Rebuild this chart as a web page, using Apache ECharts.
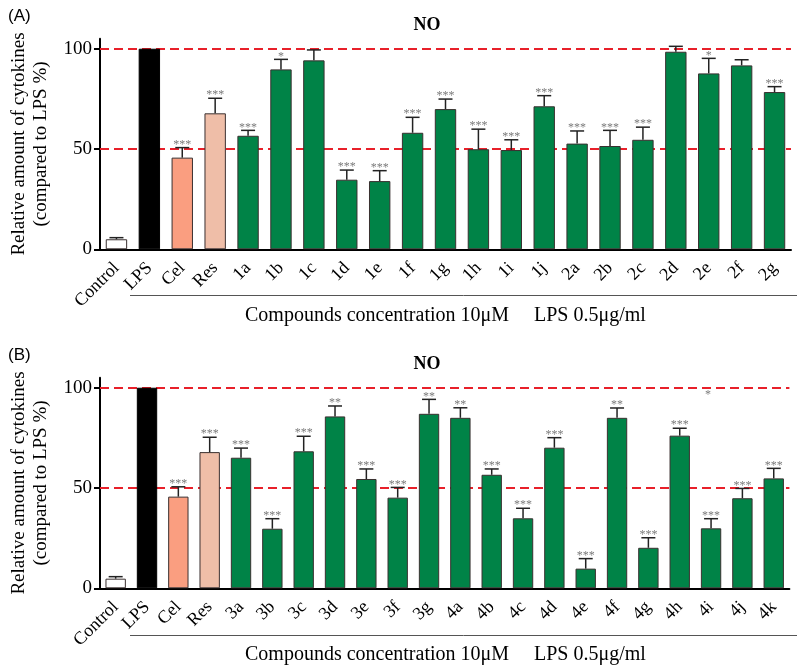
<!DOCTYPE html>
<html><head><meta charset="utf-8">
<script src="https://cdn.jsdelivr.net/npm/echarts@6/dist/echarts.min.js"></script>
<style>html,body{margin:0;padding:0;background:#fff}#c{width:800px;height:669px}</style>
</head><body><div id="c"></div>
<script>
// ---- Panel A data ----
const catsA = ['Control','LPS','Cel','Res','1a','1b','1c','1d','1e','1f','1g','1h','1i','1j','2a','2b','2c','2d','2e','2f','2g'];
const valsA = [5.0,100,45.7,67.8,56.6,89.7,94.2,34.7,34.0,58.1,69.9,49.9,49.5,71.3,52.7,51.5,54.6,98.5,87.7,91.7,78.4];
const errsA = [0.8,0,5.0,7.5,2.7,5.0,5.2,4.8,5.2,7.7,5.0,10.0,5.1,5.3,6.3,7.8,6.3,2.7,7.5,2.8,2.7];
const starsA = ['','','***','***','***','*','','***','***','***','***','***','***','***','***','***','***','','*','','***'];
// ---- Panel B data ----
const catsB = ['Control','LPS','Cel','Res','3a','3b','3c','3d','3e','3f','3g','4a','4b','4c','4d','4e','4f','4g','4h','4i','4j','4k'];
const valsB = [4.8,100,45.7,67.9,65.1,29.7,68.3,85.7,54.5,45.2,87.0,85.0,56.6,34.9,70.1,9.8,85.0,20.2,76.1,29.9,44.9,54.8];
const errsB = [1.0,0,4.9,7.4,4.8,5.0,7.5,5.2,5.0,5.1,7.2,5.0,2.9,5.0,5.0,5.0,4.9,5.0,3.7,4.8,4.9,5.0];
const starsB = ['','','***','***','***','***','***','**','***','***','**','**','***','***','***','***','**','***','***','***','***','***'];
const strayStarB = ['4i', 95, '*'];
const refLines = [50, 100];
const yTicks = [0, 50, 100];
const panelLetters = ['(A)', '(B)'];
const panelTitle = 'NO';
const yName = 'Relative amount of cytokines\n(compared to LPS %)';
const footText = 'Compounds concentration 10\u03bcM     LPS 0.5\u03bcg/ml';

const colorFor = c => c === 'Control' ? '#ffffff' : c === 'LPS' ? '#000000' : c === 'Cel' ? '#FA9E80' : c === 'Res' ? '#EFBEA8' : '#008347';
const SERIF = 'Liberation Serif';

const chart = echarts.init(document.getElementById('c'), null, {renderer: 'canvas'});

function xAxisCfg(cats, gi) {
  return {
    type: 'category', gridIndex: gi, data: cats, boundaryGap: true,
    axisLine: {lineStyle: {color: '#000', width: 2}},
    axisTick: {alignWithLabel: true, length: 6, lineStyle: {color: '#000', width: 2}},
    axisLabel: {rotate: 45, margin: 16, fontFamily: SERIF, fontSize: 18, color: '#000', interval: 0},
    splitLine: {show: false}
  };
}
function yAxisCfg(gi) {
  return {
    type: 'value', gridIndex: gi, min: 0, max: 105,
    name: yName, nameLocation: 'middle', nameRotate: 90, nameGap: 48,
    nameTextStyle: {fontFamily: SERIF, fontSize: 19, color: '#000', lineHeight: 22},
    axisLine: {show: true, lineStyle: {color: '#000', width: 2}},
    axisTick: {show: true, length: 6, lineStyle: {color: '#000', width: 2}, customValues: yTicks},
    axisLabel: {fontFamily: SERIF, fontSize: 19, color: '#000', margin: 8, customValues: yTicks},
    splitLine: {show: false}
  };
}
function barSeries(cats, vals, gi) {
  return {
    type: 'bar', xAxisIndex: gi, yAxisIndex: gi, barWidth: '65%', z: 3,
    data: vals.map((v, i) => ({value: v, itemStyle: {color: colorFor(cats[i]), borderColor: cats[i] === 'LPS' ? '#000' : '#3a3030', borderWidth: 1}})),
    markLine: {
      silent: true, symbol: 'none', z: 1, label: {show: false},
      lineStyle: {color: '#E8202A', width: 2, type: [9, 5]},
      data: refLines.map(v => ({yAxis: v}))
    }
  };
}
function errSeries(vals, errs, stars, gi) {
  return {
    type: 'custom', xAxisIndex: gi, yAxisIndex: gi, z: 4,
    data: vals.map((v, i) => [i, v, errs[i]]),
    renderItem: function (params, api) {
      const i = api.value(0), v = api.value(1), e = api.value(2);
      const p0 = api.coord([i, v]);
      const p1 = api.coord([i, v + e]);
      const children = [];
      if (e > 0) {
        children.push({type: 'line', shape: {x1: p0[0], y1: p0[1], x2: p1[0], y2: p1[1]}, style: {stroke: '#222', lineWidth: 1.5}});
        children.push({type: 'line', shape: {x1: p1[0] - 7, y1: p1[1], x2: p1[0] + 7, y2: p1[1]}, style: {stroke: '#222', lineWidth: 1.5}});
      }
      const s = stars[params.dataIndex];
      if (s) {
        children.push({type: 'text', style: {text: s, x: p1[0], y: p1[1] + 3, align: 'center', verticalAlign: 'bottom', fontFamily: SERIF, fontSize: 12, fill: '#7a7a7a'}});
      }
      return {type: 'group', children: children};
    }
  };
}

const option = {
  backgroundColor: '#fff',
  animation: false,
  textStyle: {fontFamily: SERIF},
  grid: [
    {left: 92, top: 38.7, width: 699, height: 210.6, containLabel: false},
    {left: 92, top: 377.7, width: 697.4, height: 210.6, containLabel: false}
  ],
  title: [
    {text: panelLetters[0], left: 3, top: 3, textStyle: {fontFamily: 'Liberation Sans', fontSize: 17, fontWeight: 'normal', color: '#000'}},
    {text: panelLetters[1], left: 3, top: 342, textStyle: {fontFamily: 'Liberation Sans', fontSize: 17, fontWeight: 'normal', color: '#000'}},
    {text: panelTitle, left: 422, textAlign: 'center', top: 11, textStyle: {fontFamily: SERIF, fontSize: 18, fontWeight: 'bold', color: '#000'}},
    {text: panelTitle, left: 422, textAlign: 'center', top: 350, textStyle: {fontFamily: SERIF, fontSize: 18, fontWeight: 'bold', color: '#000'}}
  ],
  xAxis: [xAxisCfg(catsA, 0), xAxisCfg(catsB, 1)],
  yAxis: [yAxisCfg(0), yAxisCfg(1)],
  series: [
    barSeries(catsA, valsA, 0),
    errSeries(valsA, errsA, starsA, 0),
    barSeries(catsB, valsB, 1),
    errSeries(valsB, errsB, starsB, 1),
    {
      type: 'custom', xAxisIndex: 1, yAxisIndex: 1, z: 4,
      data: [[catsB.indexOf(strayStarB[0]), strayStarB[1]]],
      renderItem: function (params, api) {
        const p = api.coord([api.value(0), api.value(1)]);
        return {type: 'text', style: {text: strayStarB[2], x: p[0] - 3, y: p[1] + 3, align: 'center', verticalAlign: 'bottom', fontFamily: SERIF, fontSize: 12, fill: '#7a7a7a'}};
      }
    }
  ],
  graphic: [
    {type: 'line', shape: {x1: 130, y1: 295.5, x2: 797, y2: 295.5}, style: {stroke: '#555', lineWidth: 1}},
    {type: 'line', shape: {x1: 130, y1: 635.5, x2: 797, y2: 635.5}, style: {stroke: '#555', lineWidth: 1}},
    {type: 'text', left: 245, top: 306, style: {text: footText, fontFamily: SERIF, fontSize: 20, fill: '#000'}},
    {type: 'text', left: 245, top: 645, style: {text: footText, fontFamily: SERIF, fontSize: 20, fill: '#000'}}
  ]
};
chart.setOption(option);
</script>
</body></html>
